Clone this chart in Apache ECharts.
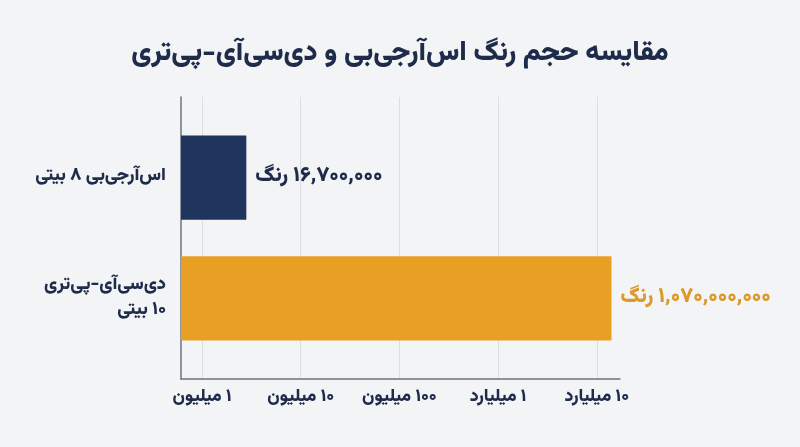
<!DOCTYPE html>
<html lang="fa">
  <head>
    <meta charset="UTF-8" />
    <title>مقایسه حجم رنگ</title>
    <style>
      html,
      body {
        margin: 0;
        padding: 0;
        background-color: #f3f4f6;
      }
      #chart-container {
        width: 800px;
        height: 447px;
      }
    </style>
    <script src="https://cdn.jsdelivr.net/npm/echarts@6/dist/echarts.min.js"></script>
  </head>
  <body>
    <div id="chart-container" dir="rtl"></div>
    <script>
      const titleText = "مقایسه حجم رنگ اس‌آرجی‌بی و دی‌سی‌آی-پی‌تری";
      const categories = ["اس‌آرجی‌بی ۸ بیتی", "دی‌سی‌آی-پی‌تری\n۱۰ بیتی"];
      // where each bar ends on the log axis, as drawn in the picture
      const barEnds = [2.81e6, 1.41e10];
      const valueLabels = ["۱۶,۷۰۰,۰۰۰ رنگ", "۱,۰۷۰,۰۰۰,۰۰۰ رنگ"];
      const tickValues = [1e6, 1e7, 1e8, 1e9, 1e10];
      const tickLabels = ["۱ میلیون", "۱۰ میلیون", "۱۰۰ میلیون", "۱ میلیارد", "۱۰ میلیارد"];

      const barColors = ["#1f355e", "#e8a024"];
      const valueColors = ["#1e2b4a", "#dc9a2a"];
      const fontFamily = "Vazirmatn, 'Noto Sans Arabic', 'DejaVu Sans', sans-serif";

      let dom = document.getElementById("chart-container");
      let myChart = echarts.init(dom, null, { renderer: "canvas" });

      function tickLabel(v) {
        for (let i = 0; i < tickValues.length; i++) {
          if (Math.abs(Math.log10(v) - Math.log10(tickValues[i])) < 1e-6) {
            return tickLabels[i];
          }
        }
        return "";
      }

      let seriesData = barEnds.map((v, i) => [v, i]);

      let option = {
        backgroundColor: "#f3f4f6",
        animation: false,
        title: {
          text: titleText,
          left: "center",
          top: 37,
          textStyle: {
            fontFamily: fontFamily,
            fontSize: 27.5,
            fontWeight: 900,
            color: "#1e2b4a",
          },
        },
        grid: { left: 181, right: 180, top: 97, bottom: 68 },
        xAxis: {
          type: "log",
          min: 612000,
          max: 1.72e10,
          splitNumber: 5,
          axisLine: {
            show: true,
            onZero: false,
            lineStyle: { color: "#6b7384", width: 1.5 },
          },
          axisTick: { show: false },
          splitLine: {
            show: true,
            showMinLine: false,
            showMaxLine: false,
            lineStyle: { color: "#dcdee2", width: 1 },
          },
          axisLabel: {
            formatter: tickLabel,
            margin: 10,
            fontFamily: fontFamily,
            fontSize: 17.5,
            fontWeight: 900,
            color: "#1e2b4a",
          },
        },
        yAxis: {
          type: "value",
          inverse: true,
          min: -0.668,
          max: 1.668,
          axisLine: {
            show: true,
            onZero: false,
            lineStyle: { color: "#6b7384", width: 1.5 },
          },
          axisTick: { show: false },
          splitLine: { show: false },
          axisLabel: {
            customValues: [0, 1],
            formatter: (v) => categories[Math.round(v)],
            margin: 15,
            lineHeight: 25,
            align: "right",
            fontFamily: fontFamily,
            fontSize: 18,
            fontWeight: 900,
            color: "#1e2b4a",
          },
        },
        series: [
          {
            type: "custom",
            data: seriesData,
            encode: { x: 0, y: 1 },
            renderItem: function (params, api) {
              let i = api.value(1);
              let end = api.coord([api.value(0), i]);
              let x0 = params.coordSys.x;
              let h = api.size([0, 1])[1] * 0.697;
              return {
                type: "group",
                children: [
                  {
                    type: "rect",
                    shape: { x: x0, y: end[1] - h / 2, width: end[0] - x0, height: h },
                    style: { fill: barColors[i] },
                  },
                  {
                    type: "text",
                    x: end[0] + 9,
                    y: end[1],
                    style: {
                      text: valueLabels[i],
                      fill: valueColors[i],
                      font: "900 21px " + fontFamily,
                      align: "left",
                      verticalAlign: "middle",
                    },
                  },
                ],
              };
            },
          },
        ],
      };

      if (option && typeof option === "object") {
        myChart.setOption(option);
      }
    </script>
  </body>
</html>
